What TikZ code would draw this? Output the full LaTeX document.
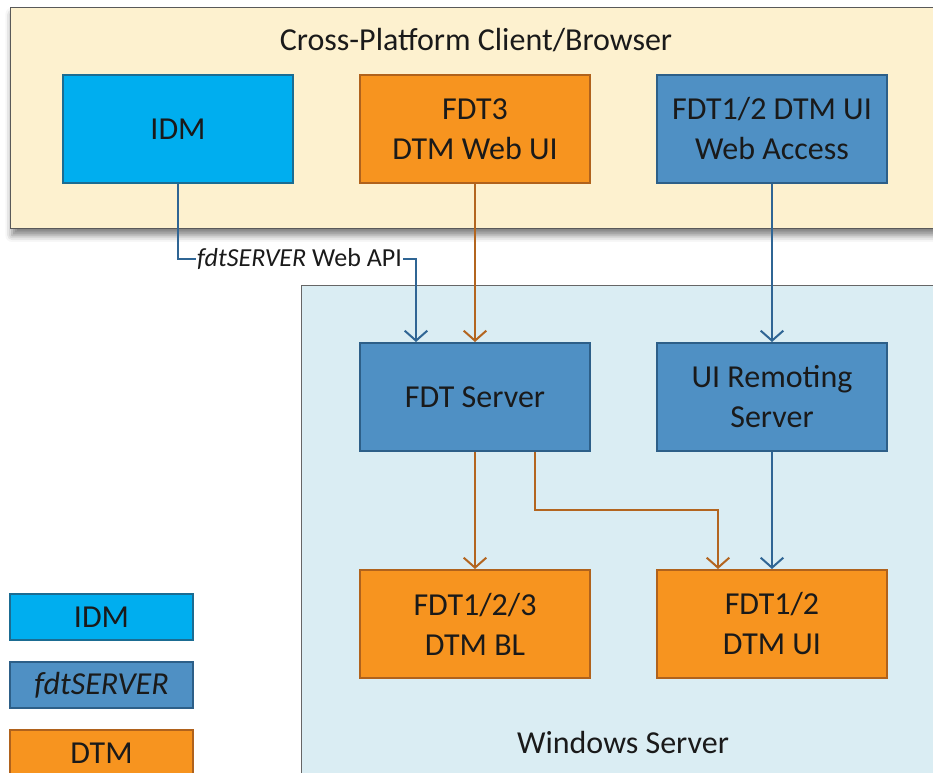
\documentclass[tikz,border=0pt]{standalone}
\usepackage{fontspec}
\setmainfont{Carlito}
\usetikzlibrary{arrows.meta,shadows.blur}
\definecolor{beige}{HTML}{FDF1CF}
\definecolor{winbg}{HTML}{DAEDF3}
\definecolor{idmfill}{HTML}{00AEEF}
\definecolor{idmline}{HTML}{1B6C92}
\definecolor{srvfill}{HTML}{4F90C4}
\definecolor{srvline}{HTML}{2D5F88}
\definecolor{dtmfill}{HTML}{F7941F}
\definecolor{dtmline}{HTML}{B0621C}
\definecolor{conblue}{HTML}{2F6594}
\definecolor{conorange}{HTML}{B3651F}
\definecolor{txt}{HTML}{1A1A1A}
\tikzset{
  bigtext/.style={font=\fontsize{24}{30}\selectfont, text=txt, align=center},
  box/.style={bigtext, draw, line width=1.5pt, minimum width=172.5pt, minimum height=81pt, inner sep=0pt},
  idmbox/.style={box, fill=idmfill, draw=idmline},
  srvbox/.style={box, fill=srvfill, draw=srvline},
  dtmbox/.style={box, fill=dtmfill, draw=dtmline},
  legbox/.style={draw, line width=1.5pt, minimum width=137.25pt, minimum height=34.5pt, inner sep=0pt, bigtext},
  bconn/.style={draw=conblue, line width=1.5pt, -{Straight Barb[length=7.5pt,width=17pt,line width=1.5pt]}},
  oconn/.style={draw=conorange, line width=1.5pt, -{Straight Barb[length=7.5pt,width=17pt,line width=1.5pt]}},
}
\begin{document}
\begin{tikzpicture}[x=0.75pt,y=-0.75pt]
\useasboundingbox (0,0) rectangle (933,773);
\clip (0,0) rectangle (933,773);
% containers
\node[draw=gray!80!black, line width=1pt, fill=winbg, anchor=north west, minimum width=487.5pt, minimum height=390pt, inner sep=0pt] (win) at (301,285) {};
\node[draw=gray!70!black, line width=1pt, fill=beige, anchor=north west, minimum width=705pt, minimum height=165.75pt, inner sep=0pt,
  blur shadow={shadow xshift=1pt, shadow yshift=-5pt, shadow blur radius=5pt, shadow opacity=50}] (client) at (10,7) {};
\node[bigtext] (clienttitle) at (476,40) {Cross-Platform Client/Browser};
\node[bigtext] (wintitle) at (623,743) {Windows Server};
% top row
\node[idmbox] (idm) at (178,129) {IDM};
\node[dtmbox] (webui) at (475,129) {FDT3\\DTM Web UI};
\node[srvbox] (webacc) at (772,129) {FDT1/2 DTM UI\\Web Access};
% middle row
\node[srvbox] (fdtsrv) at (475,397) {FDT Server};
\node[srvbox] (uirem) at (772,397) {UI Remoting\\Server};
% bottom row
\node[dtmbox] (dtmbl) at (475,624) {FDT1/2/3\\DTM BL};
\node[dtmbox] (dtmui) at (772,624) {FDT1/2\\DTM UI};
% legend
\node[legbox, fill=idmfill, draw=idmline] (legidm) at (101.5,617) {IDM};
\node[legbox, fill=srvfill, draw=srvline] (legsrv) at (101.5,685) {\itshape fdtSERVER};
\node[legbox, fill=dtmfill, draw=dtmline] (legdtm) at (101.5,753) {DTM};
% api label
\node[font=\fontsize{19.5}{22}\selectfont, text=txt, inner sep=1pt] (api) at (299.5,259) {\itshape fdtSERVER\/\upshape{} Web API};
\coordinate (bend) at (0,510);
% connectors
\draw[draw=conblue, line width=1.5pt] (idm.south) |- (api.west);
\draw[bconn] (api.east) -| ([xshift=42.75pt]fdtsrv.north west);
\draw[oconn] (webui.south) -- (fdtsrv.north);
\draw[bconn] (webacc.south) -- (uirem.north);
\draw[oconn] (fdtsrv.south) -- (dtmbl.north);
\draw[oconn] ([xshift=45pt]fdtsrv.south) -- ([xshift=45pt]fdtsrv.south |- bend) -| ([xshift=-40.5pt]dtmui.north);
\draw[bconn] (uirem.south) -- (dtmui.north);
\end{tikzpicture}
\end{document}
